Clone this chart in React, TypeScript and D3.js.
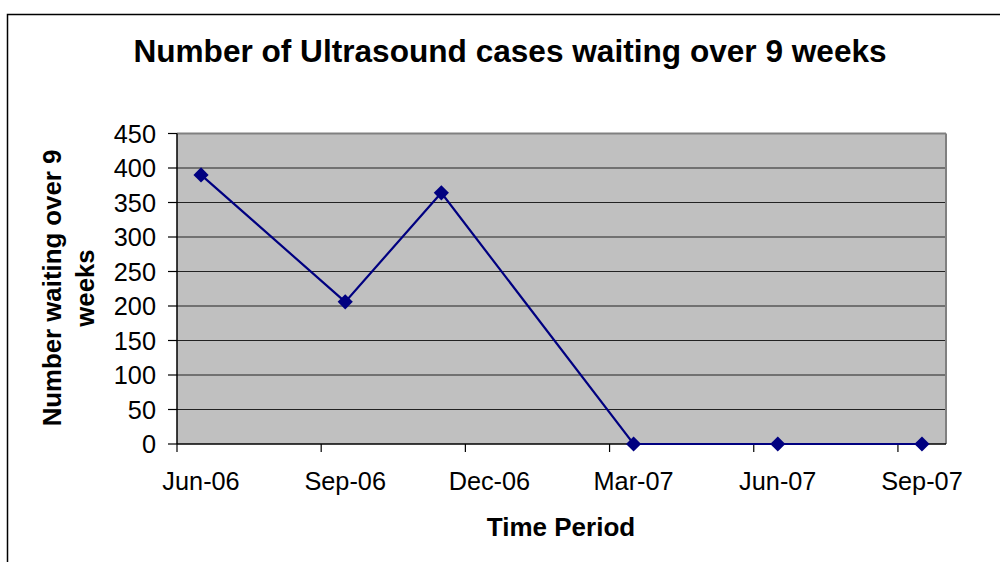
import React from "react";
import * as d3 from "d3";

const months = [
  "Jun-06", "Jul-06", "Aug-06", "Sep-06", "Oct-06", "Nov-06", "Dec-06", "Jan-07",
  "Feb-07", "Mar-07", "Apr-07", "May-07", "Jun-07", "Jul-07", "Aug-07", "Sep-07",
];
const tickLabels = ["Jun-06", "Sep-06", "Dec-06", "Mar-07", "Jun-07", "Sep-07"];
const pointDates = ["Jun-06", "Sep-06", "Nov-06", "Mar-07", "Jun-07", "Sep-07"];
const values = [390, 206, 364, 0, 0, 0];
const yTicks = [0, 50, 100, 150, 200, 250, 300, 350, 400, 450];

const title = "Number of Ultrasound cases waiting over 9 weeks";
const yTitleLines = ["Number waiting over 9", "weeks"];
const xTitle = "Time Period";

const W = 1000;
const H = 562;
const plot = { left: 177, right: 946, top: 133.5, bottom: 444 };
const FONT = "Arial, 'Liberation Sans', sans-serif";

export default function App() {
  const x = d3.scaleBand<string>().domain(months).range([plot.left, plot.right]).padding(0);
  const bw = x.bandwidth();
  const y = d3.scaleLinear().domain([0, 450]).range([plot.bottom, plot.top]);

  const pts = pointDates.map((d, i) => [x(d)! + bw / 2, y(values[i])] as [number, number]);
  const line = d3.line()(pts) || "";
  const diamond = d3.symbol().type(d3.symbolSquare).size(115)() || "";

  return (
    <div style={{ position: "absolute", left: 0, top: 0 }}>
      <svg width={W} height={H} style={{ display: "block", background: "#fff" }}>
        <rect x={7.5} y={14.5} width={W} height={H} fill="#fff" stroke="#000" strokeWidth={1.5} />
        <text x={510} y={62} textAnchor="middle" fontFamily={FONT} fontWeight="bold" fontSize={31.6} fill="#000">
          {title}
        </text>

        <rect x={plot.left} y={plot.top} width={plot.right - plot.left} height={plot.bottom - plot.top} fill="#C0C0C0" />
        {yTicks.slice(1, -1).map((t) => (
          <line key={t} x1={plot.left} x2={plot.right} y1={y(t)} y2={y(t)} stroke="#222" strokeWidth={1.2} />
        ))}
        <line x1={plot.left} x2={plot.right} y1={plot.top} y2={plot.top} stroke="#808080" strokeWidth={2} />
        <line x1={plot.right} x2={plot.right} y1={plot.top} y2={plot.bottom} stroke="#808080" strokeWidth={2} />

        {/* axes */}
        <line x1={plot.left} x2={plot.left} y1={plot.top} y2={plot.bottom} stroke="#000" strokeWidth={1.5} />
        <line x1={plot.left} x2={plot.right} y1={plot.bottom} y2={plot.bottom} stroke="#000" strokeWidth={1.5} />
        {yTicks.map((t) => (
          <g key={t}>
            <line x1={plot.left - 9} x2={plot.left} y1={y(t)} y2={y(t)} stroke="#000" strokeWidth={1.2} />
            <text x={156} y={y(t)} dy="0.36em" textAnchor="end" fontFamily={FONT} fontSize={25.3} fill="#000">
              {t}
            </text>
          </g>
        ))}
        {tickLabels.map((m) => (
          <g key={m}>
            <line x1={x(m)!} x2={x(m)!} y1={plot.bottom} y2={plot.bottom + 8} stroke="#000" strokeWidth={1.2} />
            <text x={x(m)! + bw / 2} y={490} textAnchor="middle" fontFamily={FONT} fontSize={25.3} fill="#000">
              {m}
            </text>
          </g>
        ))}

        <path d={line} fill="none" stroke="#000080" strokeWidth={2.2} />
        {pts.map((p, i) => (
          <path key={i} d={diamond} transform={`translate(${p[0]},${p[1]}) rotate(45)`} fill="#000080" />
        ))}

        <text x={561} y={536} textAnchor="middle" fontFamily={FONT} fontWeight="bold" fontSize={26} fill="#000">
          {xTitle}
        </text>
        <g transform="translate(0,288) rotate(-90)">
          {yTitleLines.map((l, i) => (
            <text key={i} x={0} y={61 + i * 33.3} textAnchor="middle" fontFamily={FONT} fontWeight="bold" fontSize={25.8} fill="#000">
              {l}
            </text>
          ))}
        </g>
      </svg>
    </div>
  );
}
